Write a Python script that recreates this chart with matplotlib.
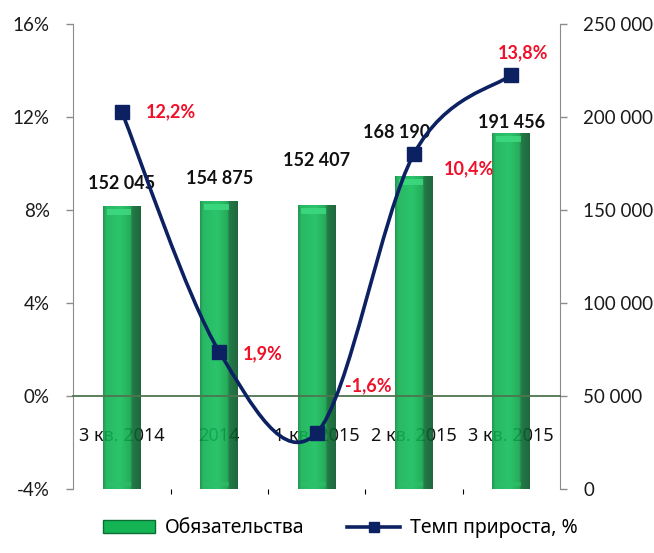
import numpy as np
import matplotlib
matplotlib.use("Agg")
import matplotlib.pyplot as plt
from matplotlib.path import Path
from matplotlib.patches import PathPatch, Rectangle, Patch
from matplotlib.lines import Line2D
from matplotlib.ticker import FuncFormatter, FixedLocator
from matplotlib.colors import to_rgb

plt.rcParams['font.family'] = ['Lato', 'Noto Sans', 'DejaVu Sans']

# data
quarters = ["3 кв. 2014", "2014", "1 кв. 2015", "2 кв. 2015", "3 кв. 2015"]
liabilities = [152045, 154875, 152407, 168190, 191456]
growth = [12.2, 1.9, -1.6, 10.4, 13.8]

# label offsets in pixels (manual placement as in the source)
bar_lbl_off = [(0, 23), (0, 22), (0, 45), (-17, 43), (0, 10)]
pct_lbl_off = [(24, 0, "left"), (24, -2, "left"), (28, 47, "left"), (30, -15, "left"), (12, 22, "center")]

line_col = "#0c2161"
red = "#f0102a"
grey = "#8c8c8c"


def fmt_thousands(v, pos):
    return "{:,.0f}".format(v).replace(",", " ")


def fmt_pct(v, pos):
    return "{:.0f}%".format(v)


def smooth_path(xs, ys):
    # excel-like smoothed line: cubic bezier through every point
    pts = np.column_stack([xs, ys]).astype(float)
    ext = np.vstack([pts[0], pts, pts[-1]])
    verts = [pts[0]]
    codes = [Path.MOVETO]
    for i in range(len(pts) - 1):
        p0, p1, p2, p3 = ext[i], ext[i + 1], ext[i + 2], ext[i + 3]
        verts += [p1 + (p2 - p0) / 6, p2 - (p3 - p1) / 6, p2]
        codes += [Path.CURVE4] * 3
    return Path(verts, codes)


fig = plt.figure(figsize=(6.54, 5.53), dpi=100)
ax = fig.add_axes([0.112, 0.116, 0.744, 0.841])
ax2 = ax.twinx()

x = np.arange(len(quarters))
w = 0.39

# gradient for the bars
stops = [(0.0, "#0c8a3e"), (0.08, "#10b052"), (0.45, "#12be5a"),
         (0.72, "#0ea44a"), (0.78, "#0a6b31"), (1.0, "#075628")]
cols = np.linspace(0, 1, 64)
grad = np.zeros((1, 64, 3))
for c in range(3):
    grad[0, :, c] = np.interp(cols, [s[0] for s in stops], [to_rgb(s[1])[c] for s in stops])

bars = ax.bar(x, liabilities, width=w, color="none", zorder=2)
px_val = 250000 / 465.0
for b, v in zip(bars, liabilities):
    x0 = b.get_x()
    im = ax.imshow(grad, extent=[x0, x0 + w, 0, v], aspect="auto", zorder=2,
                   interpolation="bilinear", alpha=0.9)
    im.set_clip_path(b)
    ax.add_patch(Rectangle((x0 + w * 0.1, v - 9 * px_val), w * 0.65, 6 * px_val,
                           color="#3fdc82", alpha=0.8, lw=0, zorder=3))
    ax.add_patch(Rectangle((x0 + w * 0.1, 3 * px_val), w * 0.65, 4 * px_val,
                           color="#2fbf6a", alpha=0.6, lw=0, zorder=3))

for i, v in enumerate(liabilities):
    ax.annotate(fmt_thousands(v, None), (x[i], v), xytext=bar_lbl_off[i], textcoords="offset pixels",
                ha="center", va="center", fontsize=13, fontweight="bold", color="#111111", zorder=4)

# category labels sit under the bars
for i, q in enumerate(quarters):
    ax.text(x[i], -1.72, q, transform=ax2.transData, ha="center", va="center",
            fontsize=13, color="#111111", zorder=1, family="Noto Sans")

ax.set_xlim(-0.5, len(quarters) - 0.5)
ax.set_ylim(0, 250000)
ax2.set_ylim(-4, 16)

# line on percent axis
ax2.add_patch(PathPatch(smooth_path(x, growth), fill=False, ec=line_col, lw=2.6, zorder=3))
ax2.plot(x, growth, ls="none", marker="s", ms=10, color=line_col, zorder=4)
for i, g in enumerate(growth):
    dx, dy, ha = pct_lbl_off[i]
    ax2.annotate("{:.1f}%".format(g).replace(".", ","), (x[i], g), xytext=(dx, dy),
                 textcoords="offset pixels", ha=ha, va="center", fontsize=13,
                 fontweight="bold", color=red, zorder=5)

# axes styling
ax.yaxis.tick_right()
ax.yaxis.set_major_locator(FixedLocator([0, 50000, 100000, 150000, 200000, 250000]))
ax.yaxis.set_major_formatter(FuncFormatter(fmt_thousands))
ax2.yaxis.tick_left()
ax2.yaxis.set_major_locator(FixedLocator([-4, 0, 4, 8, 12, 16]))
ax2.yaxis.set_major_formatter(FuncFormatter(fmt_pct))
for a in (ax, ax2):
    a.tick_params(axis="y", direction="out", length=5, width=1, color=grey, labelsize=13.5,
                  labelcolor="#1a1a1a", pad=12)
    a.spines["top"].set_visible(False)
ax.spines["left"].set_visible(False)
ax.spines["bottom"].set_visible(False)
ax.spines["right"].set_color(grey)
ax2.spines["right"].set_visible(False)
ax2.spines["left"].set_color(grey)
ax2.spines["bottom"].set_position(("data", 0))
ax2.spines["bottom"].set_color("#4f744f")
ax2.spines["bottom"].set_linewidth(1.3)
ax.set_xticks([])
ax2.set_xticks(np.arange(len(quarters) - 1) + 0.5)
ax2.set_xticklabels([])
ax2.tick_params(axis="x", direction="out", length=3, color="#b0b0b0")
ax.set_zorder(0)
ax2.set_zorder(1)
ax2.patch.set_visible(False)

handles = [Patch(facecolor="#14b455", edgecolor="#0a6e32"),
           Line2D([], [], color=line_col, lw=2.6, marker="s", ms=7)]
fig.legend(handles, ["Обязательства", "Темп прироста, %"], loc="lower center",
           bbox_to_anchor=(0.52, -0.005), ncol=2, frameon=False,
           handlelength=2.7, handleheight=0.6, handletextpad=0.5, columnspacing=2.2,
           prop={"family": "Noto Sans", "size": 14})

fig.savefig("out.png", dpi=100)
